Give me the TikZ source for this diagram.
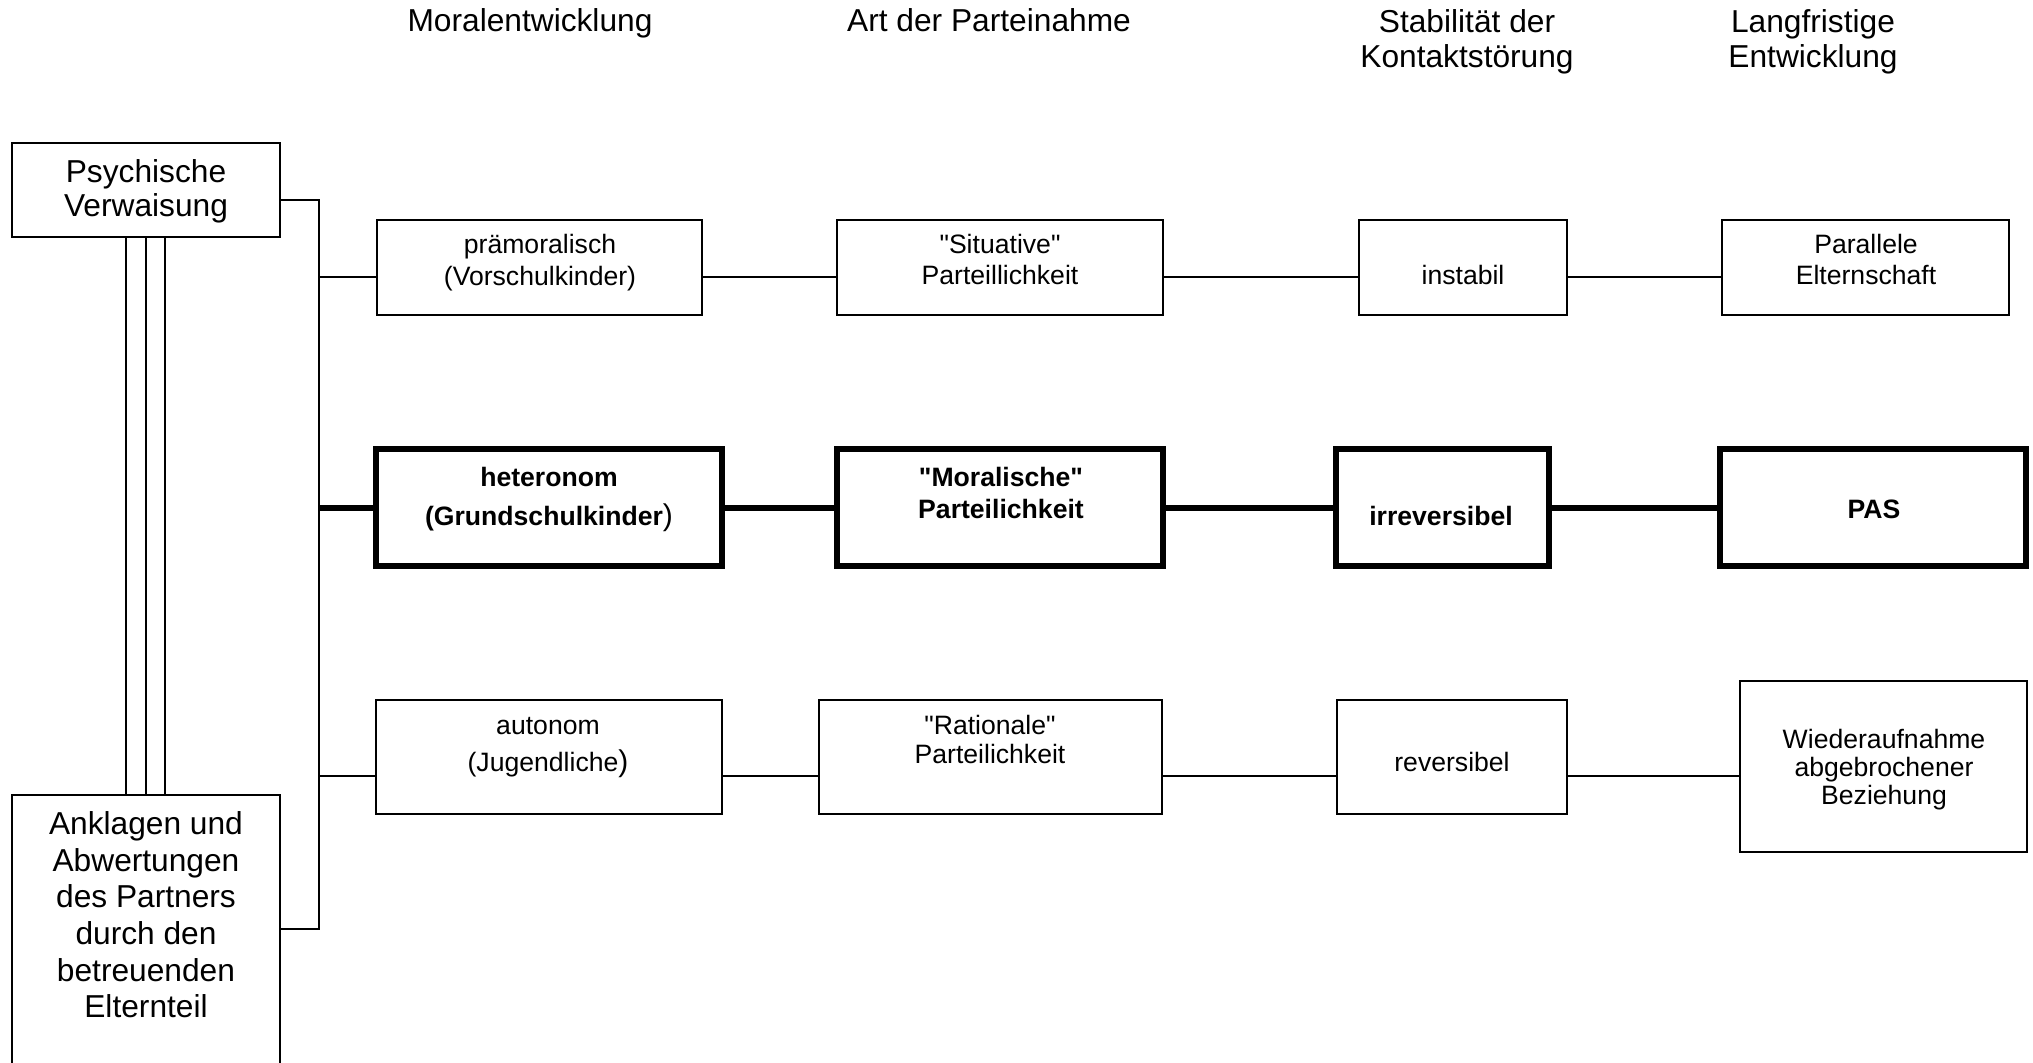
\documentclass[tikz,border=0pt]{standalone}
\usepackage{fontspec}
\setmainfont{Liberation Sans}[Ligatures=TeXOff]
\newcommand{\sq}{{\char34}}
\begin{document}
\begin{tikzpicture}[x=0.5pt,y=-0.5pt,
  box/.style={draw=black, line width=1pt, inner sep=0pt},
  bbox/.style={draw=black, line width=3pt, inner sep=0pt},
  conn/.style={line width=1pt},
  bconn/.style={line width=3pt},
  hd/.style={anchor=base, inner sep=0pt, font=\fontsize{15.85}{18}\selectfont},
  bt/.style={anchor=base, inner sep=0pt, font=\fontsize{13.3}{16}\selectfont},
  bbt/.style={anchor=base, inner sep=0pt, font=\fontsize{13.3}{16}\selectfont\bfseries}]
\fill[white] (0,0) rectangle (2033,1063);
\clip (0,0) rectangle (2033,1063);

% headers
\node[hd] (h1) at (530,32) {Moralentwicklung};
\node[hd] (h2) at (989,32) {Art der Parteinahme};
\node[hd] (h3a) at (1467,33) {Stabilität der};
\node[hd] (h3b) at (1467,68) {Kontaktstörung};
\node[hd] (h4a) at (1813,33) {Langfristige};
\node[hd] (h4b) at (1813,68) {Entwicklung};

% left boxes
\node[box, minimum width=134pt, minimum height=47pt] (psy) at (146,190) {};
\node[box, minimum width=134pt, minimum height=142.5pt] (ank) at (146,937.5) {};
\node[hd] (psy1) at (146,183) {Psychische};
\node[hd] (psy2) at (146,217) {Verwaisung};
\node[hd] (ank1) at (146,834) {Anklagen und};
\node[hd] (ank2) at (146,871) {Abwertungen};
\node[hd] (ank3) at (146,907) {des Partners};
\node[hd] (ank4) at (146,944) {durch den};
\node[hd] (ank5) at (146,981) {betreuenden};
\node[hd] (ank6) at (146,1017) {Elternteil};

% row 1
\node[box, minimum width=162.5pt, minimum height=47.5pt] (pm) at (539.5,267.5) {};
\node[box, minimum width=163pt, minimum height=47.5pt] (sit) at (1000,267.5) {};
\node[box, minimum width=104pt, minimum height=47.5pt] (inst) at (1463,267.5) {};
\node[box, minimum width=143.5pt, minimum height=47.5pt] (par) at (1865.5,267.5) {};
\node[bt] (pm1) at (540,254) {prämoralisch};
\node[bt] (pm2) at (540,286) {(Vorschulkinder)};
\node[bt] (sit1) at (1000,254) {\sq Situative\sq};
\node[bt] (sit2) at (1000,285) {Parteillichkeit};
\node[bt] (inst1) at (1463,285) {instabil};
\node[bt] (par1) at (1866,254) {Parallele};
\node[bt] (par2) at (1866,285) {Elternschaft};

% row 2
\node[bbox, minimum width=173pt, minimum height=58.5pt] (het) at (549,507.5) {};
\node[bbox, minimum width=163pt, minimum height=58.5pt] (mor) at (1000,507.5) {};
\node[bbox, minimum width=106.5pt, minimum height=58.5pt] (irr) at (1442.5,507.5) {};
\node[bbox, minimum width=153pt, minimum height=58.5pt] (pas) at (1873,507.5) {};
\node[bbt] (het1) at (549,487) {heteronom};
\node[bbt] (het2) at (549,525) {(Grundschulkinder{\mdseries\fontsize{15}{16}\selectfont)}};
\node[bbt] (mor1) at (1001,487) {\sq Moralische\sq};
\node[bbt] (mor2) at (1001,518) {Parteilichkeit};
\node[bbt] (irr1) at (1441,525) {irreversibel};
\node[bbt] (pas1) at (1874,518) {PAS};

% row 3
\node[box, minimum width=173pt, minimum height=57pt] (aut) at (549,757) {};
\node[box, minimum width=171.5pt, minimum height=57pt] (rat) at (990.5,757) {};
\node[box, minimum width=115pt, minimum height=57pt] (rev) at (1452,757) {};
\node[box, minimum width=143.5pt, minimum height=85.5pt] (wie) at (1883.5,766.5) {};
\node[bt] (aut1) at (548,734) {autonom};
\node[bt] (aut2) at (548,771) {(Jugendliche{\fontsize{15}{16}\selectfont)}};
\node[bt] (rat1) at (990,734) {\sq Rationale\sq};
\node[bt] (rat2) at (990,763) {Parteilichkeit};
\node[bt] (rev1) at (1452,771) {reversibel};
\node[bt] (wie1) at (1884,748) {Wiederaufnahme};
\node[bt] (wie2) at (1884,776) {abgebrochener};
\node[bt] (wie3) at (1884,804) {Beziehung};

% helper coordinates
\coordinate (ya) at (0,277);
\coordinate (yb) at (0,508);
\coordinate (yc) at (0,776);
\coordinate (tt) at (319,200);
\coordinate (tb) at (319,929);
\coordinate (v1) at (126,0);
\coordinate (v2) at (146,0);
\coordinate (v3) at (165,0);

% trunk
\draw[conn] (psy.east |- tt) -- (tt) -- (tb) -- (ank.east |- tb);
\draw[conn] (psy.south -| v1) -- (ank.north -| v1);
\draw[conn] (psy.south -| v2) -- (ank.north -| v2);
\draw[conn] (psy.south -| v3) -- (ank.north -| v3);

% row 1 connectors
\draw[conn] (tt |- ya) -- (pm.west |- ya);
\draw[conn] (pm.east |- ya) -- (sit.west |- ya);
\draw[conn] (sit.east |- ya) -- (inst.west |- ya);
\draw[conn] (inst.east |- ya) -- (par.west |- ya);

% row 2 connectors
\draw[bconn] (tt |- yb) -- (het.west |- yb);
\draw[bconn] (het.east |- yb) -- (mor.west |- yb);
\draw[bconn] (mor.east |- yb) -- (irr.west |- yb);
\draw[bconn] (irr.east |- yb) -- (pas.west |- yb);

% row 3 connectors
\draw[conn] (tt |- yc) -- (aut.west |- yc);
\draw[conn] (aut.east |- yc) -- (rat.west |- yc);
\draw[conn] (rat.east |- yc) -- (rev.west |- yc);
\draw[conn] (rev.east |- yc) -- (wie.west |- yc);
\end{tikzpicture}
\end{document}
